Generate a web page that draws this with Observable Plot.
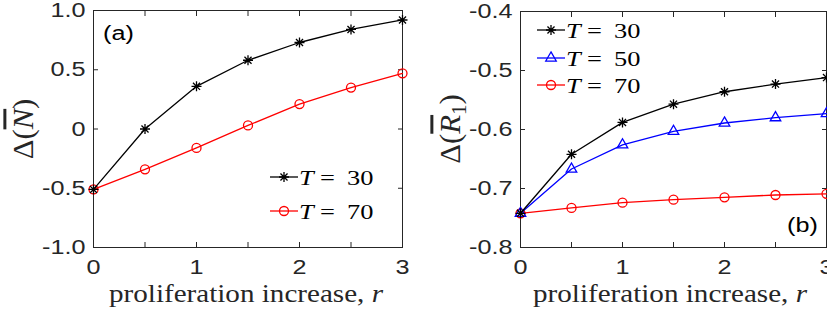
<!DOCTYPE html>
<html><head><meta charset="utf-8">
<script src="https://cdn.jsdelivr.net/npm/d3@7"></script>
<script src="https://cdn.jsdelivr.net/npm/@observablehq/plot@0.6"></script>
<style>
html,body{margin:0;padding:0;background:#fff;overflow:hidden;width:827px;height:320px;position:relative;}
#a{position:absolute;left:0;top:0;width:410px;height:320px;}
#b{position:absolute;left:410px;top:0;width:430px;height:320px;}
svg{overflow:visible;max-width:none !important;}
</style></head><body><div id="a"></div><div id="b"></div>
<script>
// ---- data ----
const r = [0, 0.5, 1, 1.5, 2, 2.5, 3];
const nT30 = [-0.51, 0.00, 0.36, 0.58, 0.73, 0.84, 0.92];
const nT70 = [-0.51, -0.34, -0.16, 0.03, 0.21, 0.35, 0.47];
const rT30 = [-0.742, -0.642, -0.588, -0.557, -0.536, -0.523, -0.512];
const rT50 = [-0.742, -0.667, -0.626, -0.603, -0.589, -0.580, -0.573];
const rT70 = [-0.742, -0.733, -0.724, -0.719, -0.715, -0.711, -0.709];
const xTicks = [0, 0.5, 1, 1.5, 2, 2.5, 3];
const xLabelTicks = [0, 1, 2, 3];
const xTickLabels = ["0", "1", "2", "3"];
const yTicksA = [-1, -0.5, 0, 0.5, 1];
const yTickLabelsA = ["-1.0", "-0.5", "0", "0.5", "1.0"];
const yTicksB = [-0.8, -0.7, -0.6, -0.5, -0.4];
const yTickLabelsB = ["-0.8", "-0.7", "-0.6", "-0.5", "-0.4"];
const legendA = ["30", "70"];
const legendB = ["30", "50", "70"];
const xTitle = "proliferation increase, ";

const AX = "#262626";
const SANS = "Liberation Sans, Arial, sans-serif";
const SERIF = "Liberation Serif, Times New Roman, serif";
const SX = 1.2; // horizontal glyph stretch seen in the reference

const asterisk8 = {
  draw(ctx, size) {
    const q = Math.sqrt(size / Math.PI);
    const d = q * Math.SQRT1_2;
    ctx.moveTo(0, -q); ctx.lineTo(0, q);
    ctx.moveTo(-q, 0); ctx.lineTo(q, 0);
    ctx.moveTo(-d, -d); ctx.lineTo(d, d);
    ctx.moveTo(-d, d); ctx.lineTo(d, -d);
  }
};

function rows(ys) { return r.map((x, i) => ({x, y: ys[i]})); }

function frameAxes(yTicks, yLabels) {
  return [
    Plot.frame({stroke: AX, strokeWidth: 1}),
    Plot.axisX(xTicks, {anchor: "bottom", tickSize: -5, tickFormat: () => "", stroke: AX, label: null}),
    Plot.axisX(xTicks, {anchor: "top", tickSize: -5, tickFormat: () => "", stroke: AX, label: null}),
    Plot.axisY(yTicks, {anchor: "left", tickSize: -5, tickFormat: () => "", stroke: AX, label: null}),
    Plot.axisY(yTicks, {anchor: "right", tickSize: -5, tickFormat: () => "", stroke: AX, label: null}),
    Plot.axisX(xLabelTicks, {anchor: "bottom", tickSize: 0, tickPadding: 12, tickFormat: (d, i) => xTickLabels[i], fill: AX, fontSize: 21, fontFamily: SANS, label: null}),
    Plot.axisY(yTicks, {anchor: "left", tickSize: 0, tickPadding: 8, tickFormat: (d, i) => yLabels[i], fill: AX, fontSize: 21, fontFamily: SANS, label: null})
  ];
}

function series(ys, color, symbol, rad) {
  return [
    Plot.line(rows(ys), {x: "x", y: "y", stroke: color, strokeWidth: 1.3}),
    Plot.dot(rows(ys), {x: "x", y: "y", stroke: color, fill: "none", symbol, r: rad, strokeWidth: 1.3})
  ];
}

const plotA = Plot.plot({
  width: 410, height: 320,
  marginLeft: 93, marginRight: 8, marginTop: 10, marginBottom: 73,
  x: {domain: [0, 3]}, y: {domain: [-1, 1]},
  style: {fontFamily: SANS, background: "white", overflow: "visible"},
  marks: [
    ...frameAxes(yTicksA, yTickLabelsA),
    ...series(nT70, "#ff0000", "circle", 4.5),
    ...series(nT30, "#000000", asterisk8, 5)
  ]
});
document.getElementById("a").append(plotA);

const plotB = Plot.plot({
  width: 430, height: 320,
  marginLeft: 110, marginRight: 14, marginTop: 11, marginBottom: 73,
  x: {domain: [0, 3]}, y: {domain: [-0.8, -0.4]},
  style: {fontFamily: SANS, background: "white", overflow: "visible"},
  marks: [
    ...frameAxes(yTicksB, yTickLabelsB),
    ...series(rT70, "#ff0000", "circle", 4.5),
    ...series(rT50, "#0000ff", "triangle", 3.9),
    ...series(rT30, "#000000", asterisk8, 5)
  ]
});
document.getElementById("b").append(plotB);

// stretch tick labels horizontally about their anchor
function stretchTicks(svg) {
  d3.select(svg).selectAll("text").each(function() {
    const t = this.getAttribute("transform");
    if (t !== null) this.setAttribute("transform", t + ` scale(${SX},1)`);
  });
}
stretchTicks(plotA);
stretchTicks(plotB);

// ---- annotations: titles, legends, panel tags ----
function xLabel(svg, cx) {
  const t = d3.select(svg).append("text")
    .attr("transform", `translate(${cx},302) scale(1.12,1)`).attr("text-anchor", "middle")
    .attr("font-family", SERIF).attr("font-size", 26).attr("fill", AX);
  t.append("tspan").text(xTitle);
  t.append("tspan").attr("font-style", "italic").text("r");
}
function yLabel(svg, x, y, sym, sub) {
  const t = d3.select(svg).append("text")
    .attr("transform", `translate(${x},${y}) rotate(-90) scale(1.23,${SX})`).attr("text-anchor", "middle")
    .attr("font-family", SERIF).attr("font-size", 25).attr("fill", AX);
  t.append("tspan").text("Δ(");
  t.append("tspan").attr("font-style", "italic").attr("text-decoration", "overline").text(sym);
  if (sub) t.append("tspan").attr("font-size", 17).attr("dy", 5).text(sub);
  t.append("tspan").attr("dy", sub ? -5 : 0).text(")");
}
function legText(g, x, y, s, italic) {
  g.append("text").attr("transform", `translate(${x},${y}) scale(${SX},1)`)
    .attr("text-anchor", "start").attr("font-style", italic ? "italic" : "normal")
    .attr("font-family", SERIF).attr("font-size", 22).attr("fill", "#000").text(s);
}
function legend(svg, x0, ys, labels, specs) {
  const g = d3.select(svg).append("g");
  labels.forEach((lab, i) => {
    const y = ys[i], s = specs[i];
    g.append("line").attr("x1", x0).attr("x2", x0 + 28).attr("y1", y).attr("y2", y)
      .attr("stroke", s.color).attr("stroke-width", 1.3);
    g.append("path").attr("transform", `translate(${x0 + 14},${y})`)
      .attr("d", d3.symbol(s.symbol, Math.PI * s.r * s.r)())
      .attr("stroke", s.color).attr("fill", "none").attr("stroke-width", 1.3);
    legText(g, x0 + 29, y + 7.5, "T", true);
    legText(g, x0 + 50, y + 7.5, "=", false);
    legText(g, x0 + 77, y + 7.5, lab, false);
  });
}
function tag(svg, x, y, s) {
  d3.select(svg).append("text").attr("transform", `translate(${x},${y}) scale(${SX},1)`)
    .attr("text-anchor", "start")
    .attr("font-family", SANS).attr("font-size", 21).attr("fill", "#000").text(s);
}

xLabel(plotA, 246);
yLabel(plotA, 33, 129, "N", null);
legend(plotA, 270, [177, 211], legendA, [
  {color: "#000", symbol: asterisk8, r: 5},
  {color: "#ff0000", symbol: d3.symbolCircle, r: 4.5}
]);
tag(plotA, 103, 40, "(a)");

xLabel(plotB, 260);
yLabel(plotB, 50, 129, "R", "1");
legend(plotB, 127, [30, 58, 85], legendB, [
  {color: "#000", symbol: asterisk8, r: 5},
  {color: "#0000ff", symbol: d3.symbolTriangle, r: 3.9},
  {color: "#ff0000", symbol: d3.symbolCircle, r: 4.5}
]);
tag(plotB, 377, 232, "(b)");
</script>
</body></html>
